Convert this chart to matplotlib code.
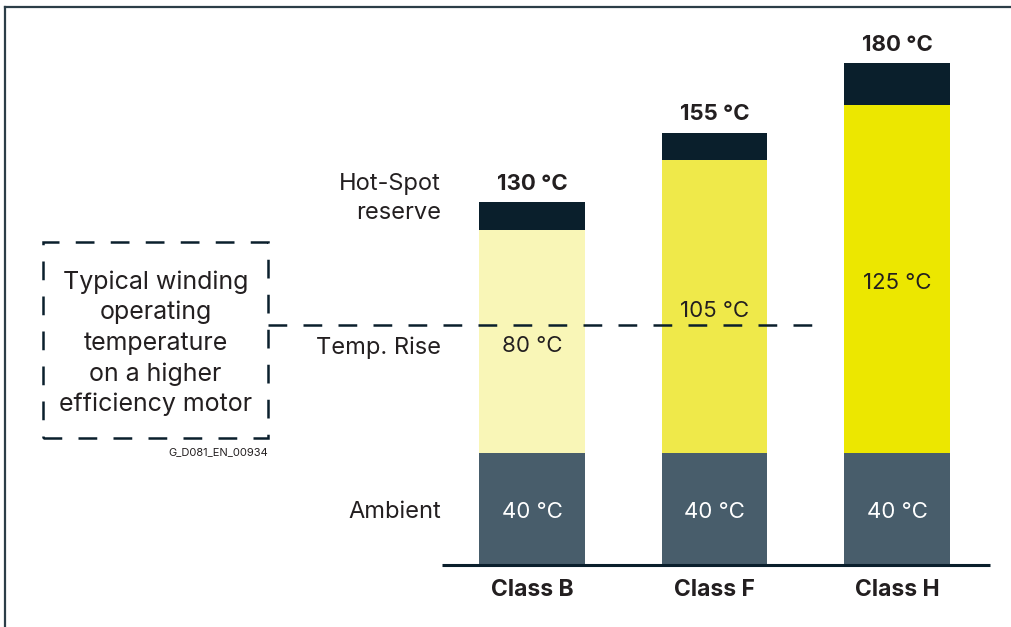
import matplotlib.pyplot as plt
from matplotlib.patches import Rectangle
from matplotlib.lines import Line2D

plt.rcParams['font.family'] = ['Inter', 'DejaVu Sans']

classes = ["Class B", "Class F", "Class H"]
ambient = [40, 40, 40]
temp_rise = [80, 105, 125]
reserve = [10, 10, 15]
rise_colors = ["#f9f6b7", "#efe94a", "#ece700"]
typical_temp = 86

text_col = "#231f20"
dark = "#0a1f2c"
slate = "#485d6b"

fig = plt.figure(figsize=(10.11, 6.27), dpi=100)
ax = fig.add_axes([0, 0, 1, 1])
ax.set_xlim(-2.915, 2.625)
ax.set_ylim(-22.2, 202.5)
ax.axis("off")

x = list(range(len(classes)))
w = 0.58
totals = [a + r + s for a, r, s in zip(ambient, temp_rise, reserve)]

ax.bar(x, ambient, w, color=slate, zorder=2)
ax.bar(x, temp_rise, w, bottom=ambient, color=rise_colors, zorder=2)
ax.bar(x, reserve, w, bottom=[a + r for a, r in zip(ambient, temp_rise)],
       color=dark, zorder=2)

for i in x:
    ax.text(i, ambient[i] / 2 - 1, f"{ambient[i]} °C", ha="center",
            va="center", color="white", fontsize=16)
    ax.text(i, ambient[i] + temp_rise[i] / 2 - 1.5, f"{temp_rise[i]} °C",
            ha="center", va="center", color=text_col, fontsize=16, zorder=4)
    ax.annotate(f"{totals[i]} °C", (i, totals[i]), xytext=(0, 13),
                textcoords="offset points", ha="center", va="center",
                color=text_col, fontsize=16, fontweight="bold")
    ax.text(i, -9.0, classes[i], ha="center", va="center", color=text_col,
            fontsize=16.5, fontweight="bold")

# baseline
ax.plot([-0.493, 2.51], [0, 0], color=dark, lw=2.2, solid_capstyle="butt",
        zorder=3)

# row labels on the left
ax.text(-0.5, 131.5, "Hot-Spot\nreserve", ha="right", va="center",
        color=text_col, fontsize=17, linespacing=1.4)
ax.text(-0.5, 78, "Temp. Rise", ha="right", va="center", color=text_col,
        fontsize=17)
ax.text(-0.5, 19, "Ambient", ha="right", va="center", color=text_col,
        fontsize=17)

# typical operating temperature line and callout box
ax.plot([-1.447, 1.578], [typical_temp, typical_temp], color=dark, lw=1.8,
        dashes=(7.5, 6.5), zorder=3)
ax.add_patch(Rectangle((-2.679, 45.5), 1.232, 70.3, fill=False,
                       edgecolor=dark, lw=1.8, linestyle=(0, (7.5, 6.5))))
ax.text(-2.063, 79.5, "Typical winding\noperating\ntemperature\non a higher\nefficiency motor",
        ha="center", va="center", color=text_col, fontsize=18, linespacing=1.4)
ax.text(-1.445, 40.5, "G_D081_EN_00934", ha="right", va="center",
        color=text_col, fontsize=8)

# frame along top and left
fig.add_artist(Line2D([0.005, 0.005], [0, 0.989], color="#2c3e48", lw=1.6))
fig.add_artist(Line2D([0.005, 1.0], [0.989, 0.989], color="#2c3e48", lw=1.6))

fig.savefig("out.png", dpi=100)
